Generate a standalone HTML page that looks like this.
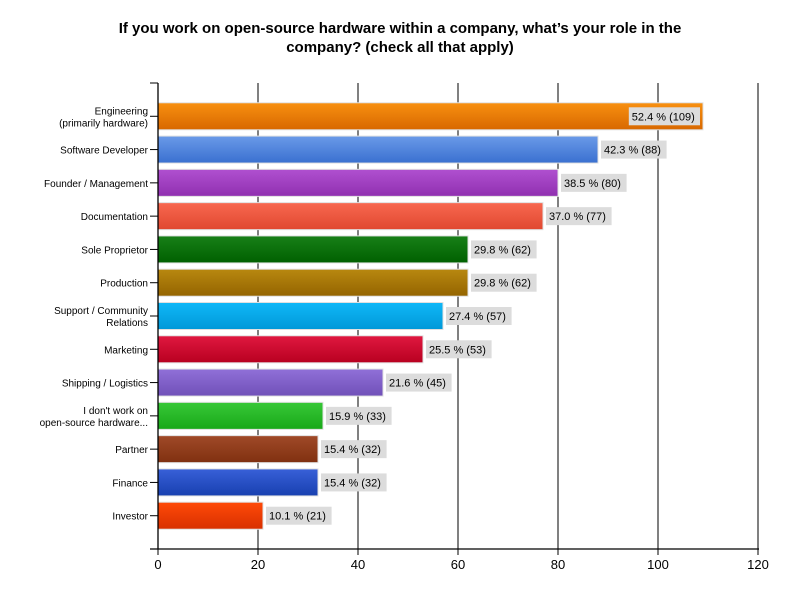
<!DOCTYPE html>
<html><head><meta charset="utf-8"><style>
body{margin:0;background:#fff;}
svg{display:block;font-family:"Liberation Sans",Arial,sans-serif;}
</style></head><body>
<svg id="chart" width="800" height="600">
<defs id="defs"></defs>
<text x="400" y="33" text-anchor="middle" font-size="15" font-weight="bold">If you work on open-source hardware within a company, what’s your role in the</text>
<text x="400" y="52" text-anchor="middle" font-size="15" font-weight="bold">company? (check all that apply)</text>
<g id="grid"></g><g id="bars"></g><g id="axes"></g>
</svg>
<script>
const categories=[["Engineering","(primarily hardware)"],["Software Developer"],["Founder / Management"],["Documentation"],["Sole Proprietor"],["Production"],["Support / Community","Relations"],["Marketing"],["Shipping / Logistics"],["I don't work on","open-source hardware..."],["Partner"],["Finance"],["Investor"]];
const counts=[109,88,80,77,62,62,57,53,45,33,32,32,21];
const percents=["52.4","42.3","38.5","37.0","29.8","29.8","27.4","25.5","21.6","15.9","15.4","15.4","10.1"];
const xTicks=[0,20,40,60,80,100,120];
const colors=[["#f89010","#d86800"],["#6a9ae8","#3a70d0"],["#b050d0","#9030b0"],["#f86850","#e04830"],["#188018","#006000"],["#b88810","#946400"],["#10b8f8","#0098d8"],["#e01840","#b80020"],["#9070d8","#7050b8"],["#38c838","#18a818"],["#a04a28","#803010"],["#3860d8","#1840b0"],["#ff4a08","#d83000"]];
const NS="http://www.w3.org/2000/svg";
const x0=158,x1=758,yTop=83,yBot=549;
const xs=v=>x0+(v-xTicks[0])/(xTicks[xTicks.length-1]-xTicks[0])*(x1-x0);
const step=(yBot-yTop)/(categories.length+1);
const yc=i=>yTop+step*(i+1);
function mk(t,a,p){const e=document.createElementNS(NS,t);for(const k in a)e.setAttribute(k,a[k]);p.appendChild(e);return e;}
const grid=document.getElementById('grid'),bars=document.getElementById('bars'),axes=document.getElementById('axes'),defs=document.getElementById('defs');
xTicks.forEach(t=>{if(t===0)return;const l=mk('line',{x1:xs(t),x2:xs(t),y1:yTop,y2:yBot,stroke:'#000','stroke-width':1},grid);

});
categories.forEach((c,i)=>{
 const g=mk('linearGradient',{id:'g'+i,x1:0,y1:0,x2:0,y2:1},defs);
 mk('stop',{offset:'0',  'stop-color':colors[i][0]},g);mk('stop',{offset:'1','stop-color':colors[i][1]},g);
 const y=yc(i),h=27,w=xs(counts[i])-x0;
 const r=mk('rect',{x:x0,y:y-h/2,width:w,height:h,fill:'url(#g'+i+')',stroke:'#e0e0e0','stroke-width':1},bars);
 
 
 const txt=percents[i]+' % ('+counts[i]+')';
 const bw=txt.length*5.6+4;
 let bx=x0+w+3;
 if(bx+bw>x1)bx=x0+w-bw-3;
 const bg=mk('rect',{x:bx,y:y-9,width:bw,height:18,fill:'#dcdcdc'},bars);
 
 
 const t=mk('text',{x:bx+3,y:y+4,'font-size':11,fill:'#000'},bars);t.textContent=txt;
 
 
 const tk=mk('line',{x1:x0-8,x2:x0,y1:y,y2:y,stroke:'#000'},axes);
 
 
 c.forEach((ln,j)=>{const ct=mk('text',{x:x0-10,y:y+4+(c.length===2?(j===0?-6:6):0),'text-anchor':'end','font-size':10},axes);ct.textContent=ln;
 
 });
});
const ya=mk('line',{x1:x0,x2:x0,y1:yTop,y2:yBot,stroke:'#000','stroke-width':1.3},axes);

const tt=mk('line',{x1:x0-8,x2:x0,y1:yTop,y2:yTop,stroke:'#000'},axes);

const xa=mk('line',{x1:x0-8,x2:x1+1,y1:yBot,y2:yBot,stroke:'#000','stroke-width':1.3},axes);

xTicks.forEach(t=>{const l=mk('line',{x1:xs(t),x2:xs(t),y1:yBot,y2:yBot+6,stroke:'#000'},axes);

const tx=mk('text',{x:xs(t),y:yBot+20,'text-anchor':'middle','font-size':13},axes);tx.textContent=t;
});
</script>
</body></html>
